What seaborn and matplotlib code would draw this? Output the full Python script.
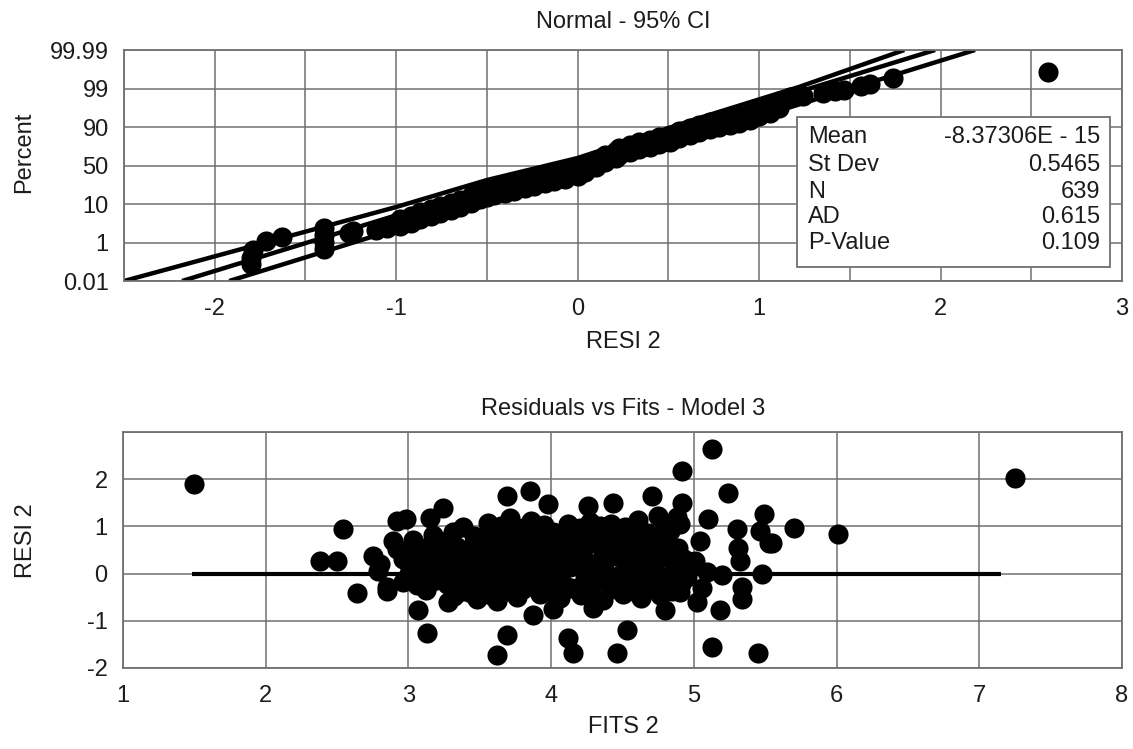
import numpy as np
import matplotlib
matplotlib.use("Agg")
import matplotlib.pyplot as plt
from matplotlib.patches import Rectangle
import pandas as pd
import seaborn as sns

# ---------------------------------------------------------------- data
PCT_TICKS = [0.01, 1, 10, 50, 90, 99, 99.99]
PCT_LABELS = ["0.01", "1", "10", "50", "90", "99", "99.99"]

# normal probability plot of the residuals
NORM_RESID = [
    -1.80, -1.80, -1.79, -1.72, -1.63,
    -1.40, -1.40, -1.40, -1.40,
    -1.26, -1.24, -1.11, -1.05, -1.01,
    -0.98, -0.92, -0.87, -0.81, -0.76, -0.70, -0.65, -0.59, -0.54, -0.50,
    -0.46, -0.40, -0.35, -0.29, -0.24, -0.18, -0.13, -0.07, 0.00, 0.04,
    0.10, 0.15, 0.21, 0.23, 0.29, 0.34, 0.40, 0.45, 0.51, 0.56,
    0.62, 0.67, 0.73, 0.78, 0.84, 0.89, 0.95, 1.00, 1.06, 1.11,
    1.17, 1.24, 1.35, 1.42, 1.47, 1.56, 1.61, 1.74, 2.59,
    -0.98, -0.92, -0.87, -0.81, -0.76, -0.70, -0.65, -0.59, -0.54, -0.50,
    -0.46, -0.40, -0.35, -0.29, -0.24, -0.18, -0.13, -0.07, 0.00, 0.04,
    0.10, 0.15, 0.21, 0.23, 0.29, 0.34, 0.40, 0.45, 0.51, 0.56,
    0.62, 0.67, 0.73, 0.78, 0.84, 0.89, 0.95, 1.00, 1.06, 1.11,
]
NORM_PCT = [
    0.45, 0.60, 0.81, 1.35, 2.29,
    0.83, 1.12, 2.75, 4.39,
    3.22, 3.69, 3.92, 4.39, 5.33,
    6.49, 7.19, 8.13, 8.83, 9.53, 11.0, 14.2, 18.3, 22.5, 24.6,
    26.6, 28.7, 30.8, 33.9, 36.0, 39.1, 41.2, 43.2, 46.4, 50.5,
    55.7, 60.9, 65.1, 68.2, 71.3, 74.4, 76.5, 79.6, 81.7, 85.8,
    89.0, 90.5, 91.2, 91.6, 92.1, 92.6, 93.3, 94.2, 94.9, 96.1,
    97.0, 97.2, 97.9, 98.3, 98.65, 99.06, 99.12, 99.27, 99.42,
    4.86, 5.56, 6.49, 7.19, 7.90, 8.60, 9.30, 11.0, 15.2, 17.3,
    19.4, 21.4, 23.5, 26.6, 28.7, 31.8, 33.9, 36.0, 39.1, 43.2,
    48.4, 53.6, 57.8, 60.9, 64.0, 67.2, 69.2, 72.3, 74.4, 78.6,
    81.7, 84.8, 87.9, 90.0, 90.5, 90.9, 91.6, 92.6, 93.3, 94.4,
]

# fitted line (straight) and 95% confidence bounds
FIT_RESID = [-2.18, 1.97]
FIT_PCT = [0.01, 99.99]
CI_LOW_RESID = [-2.50, -1.00, -0.50, 0.00, 0.67, 1.22, 1.80]
CI_LOW_PCT = [0.01, 9.3, 34.9, 57.8, 92.1, 99.04, 99.99]
CI_HIGH_RESID = [-1.92, 2.19]
CI_HIGH_PCT = [0.01, 99.99]

STAT_NAMES = ["Mean", "St Dev", "N", "AD", "P-Value"]
STAT_VALUES = ["-8.37306E - 15", "0.5465", "639", "0.615", "0.109"]

# residuals versus fitted values
FITS = [
    1.50, 7.25, 6.01, 5.70,
    2.38, 2.50, 2.54, 2.64, 2.75, 2.79, 2.85, 2.89, 2.92, 2.92, 2.80, 2.85,
    3.07, 3.13, 3.28, 3.48, 3.62, 3.69, 3.62, 3.87, 4.01, 4.12, 4.15, 4.29,
    4.53, 4.46, 4.80, 5.02, 5.18, 5.13, 5.34, 5.45, 5.48, 5.20,
    5.13, 4.92, 5.24, 3.69, 3.85, 3.98, 4.26, 4.43, 4.71, 4.92, 3.24, 2.98,
    3.15, 5.10, 5.49, 5.30, 5.46, 5.55, 5.04, 5.01, 5.31, 5.32, 5.34, 5.53,
    3.32, 3.44, 3.58, 3.76, 3.92, 4.06, 4.21, 4.36, 4.50, 4.63, 4.76, 4.90,
    2.96, 3.06, 3.17, 3.27, 3.39, 3.50, 3.61, 3.72, 3.84, 3.96, 4.08, 4.19,
    4.31, 4.43, 4.55, 4.67, 4.79, 4.91, 5.06,
    3.01, 3.11, 3.22, 3.33, 3.44, 3.55, 3.67, 3.79, 3.90, 4.02, 4.13, 4.25,
    4.37, 4.48, 4.60, 4.72, 4.84, 4.96, 5.09,
    2.96, 3.06, 3.18, 3.29, 3.41, 3.52, 3.64, 3.75, 3.87, 3.99, 4.10, 4.22,
    4.34, 4.45, 4.57, 4.69, 4.81, 4.93,
    3.09, 3.21, 3.34, 3.46, 3.58, 3.70, 3.82, 3.95, 4.07, 4.18, 4.30, 4.42,
    4.53, 4.65, 4.77, 4.89,
    3.17, 3.31, 3.46, 3.60, 3.73, 3.87, 4.01, 4.15, 4.28, 4.41, 4.55, 4.68,
    4.83, 4.90,
    3.56, 3.71, 3.86, 4.12, 4.27, 4.42, 4.61, 4.75, 4.88,
    3.12, 3.38, 3.52, 3.66, 3.80, 3.98, 4.14, 4.27, 4.42, 4.58, 4.70, 4.85,
    3.00, 3.22, 3.44, 3.56, 3.78, 3.90, 4.04, 4.24, 4.40, 4.62, 4.74, 4.95,
    3.06, 3.27, 3.50, 3.61, 3.84, 3.96, 4.19, 4.31, 4.54, 4.66, 4.90,
    3.00, 3.14, 3.40, 3.52, 3.76, 3.88, 4.12, 4.36, 4.48, 4.71, 4.83,
    3.03, 3.27, 3.52, 3.66, 3.93, 4.08, 4.22, 4.48, 4.61, 4.74,
    3.38, 3.65, 3.80, 3.95, 4.20, 4.34, 4.52, 4.80,
]
RESID = [
    1.89, 2.02, 0.84, 0.97,
    0.27, 0.27, 0.95, -0.42, 0.38, 0.06, -0.29, 0.69, 1.12, 0.53, 0.21, -0.36,
    -0.78, -1.26, -0.61, -0.53, -0.57, -1.31, -1.73, -0.88, -0.74, -1.37, -1.69, -0.72,
    -1.20, -1.69, -0.78, -0.61, -0.78, -1.56, -0.53, -1.69, 0.00, -0.04,
    2.65, 2.17, 1.71, 1.64, 1.75, 1.47, 1.43, 1.49, 1.64, 1.50, 1.39, 1.16,
    1.18, 1.16, 1.26, 0.95, 0.91, 0.65, 0.69, 0.27, 0.55, 0.27, -0.29, 0.65,
    -0.48, -0.42, -0.45, -0.50, -0.44, -0.52, -0.46, -0.55, -0.43, -0.51, -0.45, -0.40,
    -0.18, -0.25, -0.15, -0.22, -0.28, -0.16, -0.24, -0.19, -0.27, -0.14, -0.22, -0.30,
    -0.17, -0.25, -0.19, -0.28, -0.16, -0.23, -0.30,
    0.08, 0.02, 0.10, 0.04, 0.12, -0.02, 0.07, 0.13, 0.01, 0.09, 0.15, 0.03,
    0.10, -0.03, 0.06, 0.12, 0.00, 0.08, 0.04,
    0.30, 0.36, 0.28, 0.38, 0.31, 0.26, 0.37, 0.33, 0.27, 0.39, 0.30, 0.35,
    0.26, 0.38, 0.32, 0.28, 0.36, 0.31,
    0.55, 0.62, 0.57, 0.64, 0.55, 0.60, 0.66, 0.54, 0.61, 0.57, 0.65, 0.56,
    0.62, 0.58, 0.66, 0.55,
    0.82, 0.88, 0.80, 0.86, 0.92, 0.83, 0.89, 0.81, 0.90, 0.84, 0.93, 0.86,
    0.90, 1.05,
    1.08, 1.18, 1.12, 1.05, 1.10, 1.06, 1.13, 1.22, 1.20,
    -0.35, -0.36, -0.31, -0.38, -0.33, -0.36, -0.30, -0.38, -0.33, -0.37, -0.31, -0.36,
    -0.05, -0.08, -0.05, -0.10, -0.06, -0.09, -0.04, -0.08, -0.05, -0.09, -0.06, -0.08,
    0.18, 0.22, 0.19, 0.22, 0.18, 0.23, 0.20, 0.18, 0.22, 0.19, 0.21,
    0.45, 0.47, 0.44, 0.48, 0.45, 0.47, 0.44, 0.48, 0.45, 0.47, 0.44,
    0.72, 0.70, 0.74, 0.71, 0.73, 0.70, 0.74, 0.71, 0.74, 0.70,
    0.98, 1.00, 0.96, 1.02, 0.97, 1.00, 0.98, 1.02,
]

REF_FITS = [1.48, 7.15]
REF_RESID = [0.0, 0.0]

# ---------------------------------------------------------------- style
sns.set_theme(style="white")
plt.rcParams["font.family"] = ["Liberation Sans", "DejaVu Sans"]
plt.rcParams["axes.unicode_minus"] = False

FS = 17
TXT = "#1c1c1c"
GRID = "#707070"
MARK_S = 210

fig = plt.figure(figsize=(11.33, 7.49), dpi=100)
W, H = 1133, 749


def axes_px(left, top, right, bottom):
    return fig.add_axes([left / W, 1 - bottom / H, (right - left) / W, (bottom - top) / H])


def style_axes(ax):
    for s in ax.spines.values():
        s.set_color(GRID)
        s.set_linewidth(1.3)
    ax.tick_params(which="major", direction="out", length=7.5, width=1.1,
                   color=GRID, labelsize=FS, labelcolor=TXT)
    ax.tick_params(axis="x", which="major", pad=4.5)
    ax.tick_params(axis="y", which="major", pad=3.5)
    ax.tick_params(which="minor", length=0)
    ax.grid(True, which="both", color=GRID, linewidth=1.1)
    ax.set_axisbelow(True)


# ---------------------------------------------------------------- probability plot
ax1 = axes_px(124, 50, 1122, 281)
positions = np.arange(len(PCT_TICKS), dtype=float)


def pct_to_pos(p):
    return np.interp(p, PCT_TICKS, positions)


def pos_to_pct(v):
    return np.interp(v, positions, PCT_TICKS)


ax1.set_yscale("function", functions=(pct_to_pos, pos_to_pct))
ax1.set_xlim(-2.5, 3)
ax1.set_ylim(0.01, 99.99)
ax1.set_xticks(np.arange(-2, 4, 1))
ax1.set_xticks(np.arange(-2.5, 3.01, 0.5), minor=True)
ax1.set_yticks(PCT_TICKS)
ax1.set_yticklabels(PCT_LABELS)
ax1.yaxis.set_minor_locator(matplotlib.ticker.NullLocator())
style_axes(ax1)

for xs, ys in ((CI_LOW_RESID, CI_LOW_PCT), (FIT_RESID, FIT_PCT), (CI_HIGH_RESID, CI_HIGH_PCT)):
    ax1.plot(xs, ys, color="black", lw=3.2, solid_capstyle="butt",
             solid_joinstyle="round", zorder=2)

norm_df = pd.DataFrame({"resid": NORM_RESID, "pct": NORM_PCT})
sns.scatterplot(data=norm_df, x="resid", y="pct", ax=ax1, color="black",
                s=MARK_S, linewidth=0, zorder=3, legend=False)
ax1.set_xlabel("")
ax1.set_ylabel("")

# summary statistics box
ax1.add_patch(Rectangle((0.674, 0.061), 0.314, 0.649, transform=ax1.transAxes,
                        facecolor="white", edgecolor=GRID, lw=1.3, zorder=5))
rows_y = [0.623, 0.502, 0.385, 0.277, 0.165]
for name, val, yy in zip(STAT_NAMES, STAT_VALUES, rows_y):
    ax1.text(0.685, yy, name, transform=ax1.transAxes, fontsize=FS, color=TXT,
             ha="left", va="center", zorder=6)
    ax1.text(0.978, yy, val, transform=ax1.transAxes, fontsize=FS, color=TXT,
             ha="right", va="center", zorder=6)

# ---------------------------------------------------------------- residuals vs fits
ax2 = axes_px(123, 432, 1122, 668)
ax2.set_xlim(1, 8)
ax2.set_ylim(-2, 3)
ax2.set_xticks(range(1, 9))
ax2.set_yticks(range(-2, 4))
ax2.set_yticklabels(["-2", "-1", "0", "1", "2", ""])
style_axes(ax2)

fit_df = pd.DataFrame({"fits": FITS, "resid": RESID})
ax2.plot(REF_FITS, REF_RESID, color="black", lw=3.0, solid_capstyle="butt", zorder=2)
sns.scatterplot(data=fit_df, x="fits", y="resid", ax=ax2, color="black",
                s=MARK_S, linewidth=0, zorder=3, legend=False)
ax2.set_xlabel("")
ax2.set_ylabel("")

# ---------------------------------------------------------------- titles and labels
def fig_text(x, y, s, **kw):
    fig.text(x / W, 1 - y / H, s, fontsize=FS, color=TXT, ha="center", va="center", **kw)


fig_text(623, 22, "Normal - 95% CI")
fig_text(623, 342, "RESI 2")
fig_text(24, 152, "Percent", rotation=90)
fig_text(623, 409, "Residuals vs Fits - Model 3")
fig_text(623, 727, "FITS 2")
fig_text(26, 541, "RESI 2", rotation=90)

fig.savefig("out.png", dpi=100, facecolor="white")
